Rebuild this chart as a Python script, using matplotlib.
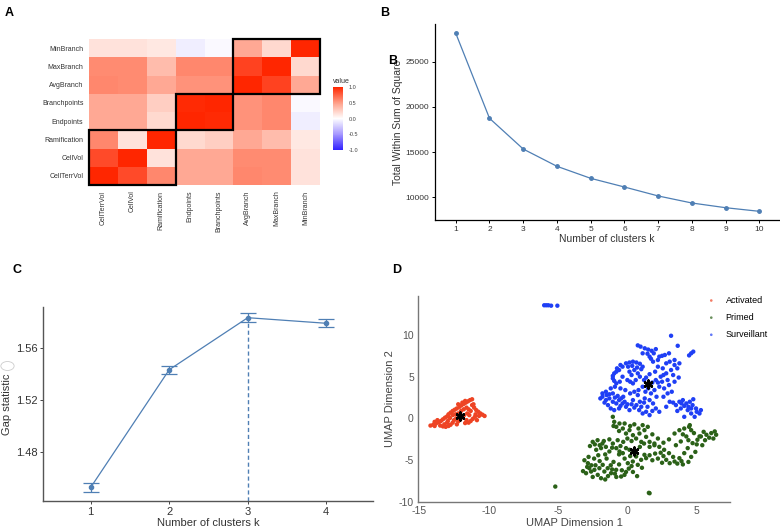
import matplotlib.pyplot as plt
import numpy as np
from matplotlib.colors import LinearSegmentedColormap
from matplotlib.patches import Rectangle, Circle

plt.rcParams["font.family"] = ["Liberation Sans", "DejaVu Sans"]
plt.rcParams["axes.unicode_minus"] = False

# ---- panel A: correlation heatmap ----
VARS = ["CellTerrVol", "CellVol", "Ramification", "Endpoints",
        "Branchpoints", "AvgBranch", "MaxBranch", "MinBranch"]
CORR = [
    [1.00, 0.85, 0.60, 0.45, 0.45, 0.60, 0.58, 0.15],
    [0.85, 1.00, 0.15, 0.45, 0.45, 0.58, 0.58, 0.15],
    [0.60, 0.15, 1.00, 0.20, 0.25, 0.45, 0.35, 0.12],
    [0.45, 0.45, 0.20, 1.00, 0.98, 0.55, 0.60, -0.08],
    [0.45, 0.45, 0.25, 0.98, 1.00, 0.55, 0.60, -0.03],
    [0.60, 0.58, 0.45, 0.55, 0.55, 1.00, 0.88, 0.45],
    [0.58, 0.58, 0.35, 0.60, 0.60, 0.88, 1.00, 0.20],
    [0.15, 0.15, 0.12, -0.08, -0.03, 0.45, 0.20, 1.00],
]
BLOCKS = [(0, 3), (3, 2), (5, 3)]  # (start, size) of boxed clusters

# ---- panel B: elbow ----
K_ELBOW = [1, 2, 3, 4, 5, 6, 7, 8, 9, 10]
WSS = [28150, 18740, 15340, 13430, 12100, 11140, 10150, 9370, 8850, 8450]

# ---- panel C: gap statistic ----
K_GAP = [1, 2, 3, 4]
GAP = [1.4528, 1.5433, 1.5833, 1.5790]
GAP_SE = [0.0035, 0.0030, 0.0035, 0.0032]
K_BEST = 3

# ---- panel D: UMAP ----
ACTIVATED = [
    (-14.2, -0.85), (-14.0, -0.75), (-13.8, -0.6), (-13.6, -0.45), (-13.45, -0.3),
    (-13.3, -0.1), (-13.15, 0.1), (-13.0, 0.25), (-13.5, -0.85), (-13.3, -0.95),
    (-13.1, -1.0), (-12.9, -0.9), (-12.75, -0.75), (-12.9, 0.5), (-12.75, 0.7),
    (-12.6, 0.9), (-12.45, 1.05), (-12.3, 1.2), (-12.6, 0.4), (-12.1, 1.4),
    (-11.95, 1.6), (-11.8, 1.75), (-11.65, 1.9), (-11.5, 2.05), (-11.35, 2.2),
    (-11.2, 2.3), (-12.5, -0.2), (-12.35, 0.0), (-12.2, -0.35), (-12.05, -0.1),
    (-11.9, 0.2), (-11.6, 1.3), (-11.45, 1.1), (-11.3, 0.9), (-11.55, 0.6),
    (-11.4, 0.4), (-11.2, 1.6), (-11.05, 1.3), (-10.9, 1.0), (-10.75, 0.8),
    (-10.6, 0.6), (-10.45, 0.45), (-10.3, 0.3), (-11.0, 0.2), (-11.15, -0.05),
    (-11.3, -0.3), (-11.45, -0.5), (-11.7, -0.55), (-10.85, -0.2), (-13.7, -0.2),
    (-13.9, -0.4), (-12.0, 0.9), (-12.2, 0.6), (-11.8, 1.1), (-12.8, 0.05),
    (-12.95, -0.3), (-13.9, -0.9), (-13.2, -0.7), (-12.6, -0.5), (-12.4, 0.5),
    (-11.7, 2.1), (-11.9, 1.9), (-12.2, 1.7), (-11.1, 1.7), (-10.95, 0.5),
    (-10.7, 0.3), (-11.6, -0.2), (-11.8, 0.35), (-12.3, -0.7), (-13.0, -0.5),
]
PRIMED = [
    (-5.2, -8.15), (1.55, -8.9), (1.6, -8.95),
    (-1.05, 0.2), (-0.95, -0.4), (-0.8, -1.0), (-0.57, -0.6), (-0.33, -1.2),
    (-0.1, -1.8), (0.15, -1.4), (0.4, -2.0), (0.63, -2.4), (0.87, -1.8),
    (1.0, -2.8), (1.23, -1.4), (1.47, -1.0), (1.35, -2.2), (1.6, -2.8),
    (1.95, -3.0), (0.5, -0.7), (0.8, -1.2), (-0.6, -1.5), (-1.0, -0.9),
    (-2.5, -2.8), (-2.15, -2.6), (-1.8, -3.0), (-1.55, -3.4), (-1.9, -3.55),
    (-2.25, -3.75), (-1.3, -3.95), (-1.05, -3.0), (-0.8, -3.55), (-0.57, -3.95),
    (-0.33, -4.15), (-0.1, -3.55), (0.15, -3.75), (-1.3, -2.5), (-0.7, -2.6),
    (-2.7, -3.3),
    (-3.1, -5.0), (-2.85, -5.35), (-2.75, -5.95), (-2.98, -6.55), (-2.62, -6.35),
    (-2.38, -6.15), (-2.14, -6.75), (-1.9, -7.15), (-2.02, -5.95), (-1.66, -6.35),
    (-1.42, -5.95), (-1.18, -6.55), (-0.81, -6.15), (-0.45, -6.95), (-0.21, -6.75),
    (-1.78, -5.55), (-2.4, -4.8), (-2.1, -4.4), (-1.5, -4.8), (-1.0, -5.2),
    (-0.6, -5.5), (-3.2, -6.3), (-1.6, -7.3), (-0.8, -7.0),
    (0.63, -4.55), (0.99, -4.95), (1.23, -4.35), (0.39, -5.15), (0.03, -5.35),
    (0.75, -5.55), (1.35, -4.75), (0.2, -4.5), (-0.2, -4.8), (0.1, -6.0),
    (0.4, -6.4), (0.7, -6.9), (1.05, -5.9),
    (1.6, -3.4), (1.95, -3.2), (2.3, -3.4), (2.65, -3.75), (3.0, -4.15),
    (2.8, -4.95), (3.05, -5.35), (3.4, -5.15), (3.75, -4.75), (4.1, -4.15),
    (4.35, -3.55), (4.7, -2.95), (5.05, -2.55), (5.3, -2.15), (5.7, -1.95),
    (6.05, -1.75), (6.3, -1.55), (6.4, -1.95), (2.5, -5.3), (2.2, -4.8),
    (3.6, -5.4), (4.0, -5.5), (4.4, -5.2), (5.6, -2.6), (5.0, -3.1),
    (2.0, -4.2), (1.8, -5.0),
    (3.75, -1.4), (4.1, -1.2), (4.45, -1.0), (4.8, -1.75), (5.2, -2.15),
    (4.25, -2.15), (3.85, -2.75), (3.5, -3.2), (4.5, -0.8), (3.4, -1.8),
    (3.0, -2.5),
    (-2.0, -3.2), (-1.7, -2.7), (-2.35, -3.1), (-1.1, -3.5), (-0.5, -3.3),
    (-0.3, -2.8), (0.0, -2.4), (0.3, -2.7), (-0.2, -0.6), (0.2, -0.9),
    (1.1, -0.8), (1.8, -1.9), (-2.8, -4.6), (-2.6, -5.6), (-2.3, -5.6),
    (-2.0, -5.1), (-1.2, -5.6), (-1.1, -6.1), (-0.4, -6.2), (-0.1, -6.4),
    (0.3, -5.7), (1.6, -4.4), (2.4, -4.1), (2.6, -4.5), (3.3, -4.6),
    (3.9, -5.1), (4.6, -4.6), (4.9, -4.0), (5.4, -3.2), (5.9, -2.3),
    (6.2, -2.4), (5.5, -1.6), (4.0, -1.9), (4.6, -1.4), (4.4, -2.6),
    (2.2, -2.4), (2.6, -2.9), (-2.9, -5.8), (-1.4, -6.9), (-0.9, -6.6),
    (-2.5, -7.0), (-0.6, -4.3), (-1.6, -4.3), (0.9, -3.4), (1.2, -3.0),
]
SURVEILLANT = [
    (-6.0, 13.55), (-5.85, 13.55), (-5.7, 13.55), (-5.5, 13.5), (-5.05, 13.5),
    (3.15, 9.9), (3.63, 8.7), (4.45, 7.55), (4.6, 7.8), (4.75, 8.0),
    (0.75, 8.75), (0.95, 8.6), (1.25, 8.4), (1.5, 8.25), (1.75, 8.1),
    (2.05, 8.3), (1.1, 7.8), (1.45, 7.75), (1.6, 7.4), (1.7, 7.15),
    (1.85, 6.8), (2.3, 7.4), (2.5, 7.5), (2.7, 7.6), (3.0, 7.8),
    (-0.1, 6.6), (0.15, 6.7), (0.4, 6.8), (0.65, 6.7), (0.9, 6.55),
    (1.1, 6.2), (-0.35, 6.2), (-0.6, 5.8), (-0.8, 5.6), (-0.95, 5.4),
    (-1.05, 5.1), (-1.05, 4.8), (-0.95, 4.5), (-0.8, 4.2), (-0.55, 4.4),
    (-0.35, 5.0), (0.0, 4.6), (0.2, 4.4), (0.4, 4.2), (0.6, 4.6),
    (0.15, 5.6), (0.5, 5.8), (0.75, 5.4), (0.3, 5.2),
    (1.2, 4.6), (1.35, 4.9), (1.8, 4.3), (1.1, 3.8),
    (2.05, 4.6), (2.4, 5.0), (2.8, 5.4), (3.15, 5.8), (3.4, 6.4),
    (3.05, 6.8), (2.55, 6.0), (2.8, 6.6), (3.4, 7.0), (3.75, 6.6),
    (3.6, 6.0), (2.3, 3.8), (2.65, 3.6), (3.0, 4.0), (3.4, 4.4),
    (3.7, 4.9), (1.95, 3.4), (1.7, 3.0), (2.2, 4.3),
    (-1.8, 3.0), (-1.55, 3.2), (-1.05, 3.0), (-1.8, 2.6), (-1.55, 2.2),
    (-1.3, 2.4), (-1.05, 2.0), (-0.8, 1.8), (-0.6, 2.2), (-0.35, 1.8),
    (-0.1, 1.4), (0.15, 1.0), (-1.4, 1.6), (-1.2, 1.2), (-0.95, 1.0),
    (-0.6, 1.2), (-1.95, 2.4), (-0.3, 2.6), (-0.7, 2.7),
    (0.4, 2.2), (0.65, 1.6), (0.85, 1.0), (1.1, 0.6), (1.35, 0.8),
    (1.6, 0.4), (1.45, 1.4), (1.85, 1.8), (2.05, 1.2), (2.3, 0.8),
    (0.9, 2.0), (1.25, 2.4), (0.75, 2.8), (1.0, 1.4), (1.6, 2.2),
    (3.75, 2.0), (4.0, 2.2), (4.25, 1.8), (4.5, 2.0), (4.7, 1.6),
    (4.95, 1.2), (5.2, 0.6), (4.35, 1.0), (4.6, 0.6), (4.1, 0.2),
    (3.85, 1.2), (3.5, 1.6), (3.05, 2.0), (2.8, 1.4), (4.85, 0.2),
    (5.3, 1.0), (4.1, 1.5), (4.75, 2.3), (3.3, 1.9),
    (-1.5, 2.8), (-1.3, 2.9), (-0.9, 2.5), (-0.45, 2.4), (-0.2, 2.0),
    (0.0, 1.7), (-0.5, 1.5), (-1.65, 1.9), (0.5, 3.2), (0.2, 3.0),
    (-0.15, 3.4), (-0.5, 3.6), (0.8, 3.4), (1.3, 3.2), (1.5, 3.6),
    (2.6, 2.6), (2.9, 3.0), (3.2, 3.2), (2.5, 4.4), (2.9, 4.6),
    (3.3, 5.2), (-0.75, 6.0), (-0.5, 6.4), (0.05, 6.2), (0.35, 6.3),
    (1.0, 5.9), (0.9, 5.0), (1.6, 5.3), (2.0, 5.6), (2.2, 6.2),
    (1.9, 7.8), (2.2, 7.0), (3.9, 1.8), (4.4, 1.4), (5.0, 0.8),
    (4.6, 1.2), (3.6, 0.9), (1.2, 1.9), (1.8, 0.9), (2.1, 2.6),
    (0.5, 1.3), (0.3, 1.7), (-1.2, 3.6), (-0.9, 3.8), (0.7, 6.1),
    (2.6, 5.2),
]
CENTROIDS = [(-12.1, 0.25), (1.5, 4.1), (0.45, -3.95)]

STEEL = "#4f7fb4"
RED, GREEN, BLUE = "#ee4424", "#2b6118", "#1f3ff5"

fig = plt.figure(figsize=(7.8, 5.28), dpi=100)

# ---------------- A ----------------
cmap = LinearSegmentedColormap.from_list(
    "rwb", [(0, "#3020ff"), (0.25, "#a597ff"), (0.5, "#ffffff"),
            (0.75, "#ff9f88"), (1, "#ff2600")])
axA = fig.add_axes([0.1141, 0.6496, 0.2962, 0.2765])
mesh = axA.pcolormesh(np.array(CORR), cmap=cmap, vmin=-1, vmax=1)
for start, size in BLOCKS:
    axA.add_patch(Rectangle((start, start), size, size, fill=False,
                            edgecolor="black", linewidth=1.6, clip_on=False))
axA.set_xlim(0, 8)
axA.set_ylim(0, 8)
axA.set_xticks(np.arange(8) + 0.5)
axA.set_yticks(np.arange(8) + 0.5)
axA.set_xticklabels(VARS, rotation=90, fontsize=5, color="#333333")
axA.set_yticklabels(VARS, fontsize=5, color="#333333")
axA.tick_params(length=0, pad=4)
for s in axA.spines.values():
    s.set_visible(False)

cax = fig.add_axes([0.4269, 0.7159, 0.0128, 0.1193])
cb = fig.colorbar(mesh, cax=cax, ticks=[-1, -0.5, 0, 0.5, 1])
cb.outline.set_visible(False)
cb.ax.set_yticklabels(["-1.0", "-0.5", "0.0", "0.5", "1.0"])
cb.ax.tick_params(labelsize=4, length=2, color="white", labelcolor="#444444", pad=2)
fig.text(0.4269, 0.8430, "value", fontsize=5, color="#333333")

# ---------------- B ----------------
axB = fig.add_axes([0.5577, 0.5833, 0.441, 0.3712])
axB.plot(K_ELBOW, WSS, color=STEEL, lw=0.9, marker="o", ms=2.5)
axB.set_xlim(0.385, 10.58)
axB.set_ylim(7489, 29170)
axB.set_xticks(K_ELBOW)
axB.set_yticks([10000, 15000, 20000, 25000])
axB.set_xlabel("Number of clusters k", fontsize=7.5, color="#333333", labelpad=1)
axB.set_ylabel("Total Within Sum of Square", fontsize=7.5, color="#333333", labelpad=2)
axB.tick_params(labelsize=6, length=2.5, width=0.7, pad=1.5, labelcolor="#333333")
for s in ["top", "right"]:
    axB.spines[s].set_visible(False)
for s in ["left", "bottom"]:
    axB.spines[s].set_linewidth(0.9)

# ---------------- C ----------------
axC = fig.add_axes([0.0551, 0.0511, 0.4231, 0.3674])
axC.errorbar(K_GAP, GAP, yerr=GAP_SE, color=STEEL, lw=0.9, marker="o", ms=3,
             capsize=6, elinewidth=0.9, capthick=0.9)
axC.set_xlim(0.392, 4.595)
axC.set_ylim(1.4423, 1.5915)
axC.vlines(K_BEST, 1.4423, GAP[K_GAP.index(K_BEST)], colors=STEEL,
           linestyles=(0, (3, 2)), lw=1)
axC.set_xticks(K_GAP)
axC.set_yticks([1.48, 1.52, 1.56])
axC.set_xlabel("Number of clusters k", fontsize=8, color="#333333", labelpad=1)
axC.set_ylabel("Gap statistic", fontsize=8, color="#333333", labelpad=3)
axC.tick_params(labelsize=8, length=2.5, width=0.7, pad=1.5, labelcolor="#333333",
                color="#444444")
for s in ["top", "right"]:
    axC.spines[s].set_visible(False)
for s in ["left", "bottom"]:
    axC.spines[s].set_linewidth(1.0)
    axC.spines[s].set_color("#555555")
fig.add_artist(Circle((0.0096, 1 - 366 / 528), 0.0085, transform=fig.transFigure,
                      fill=False, edgecolor="#cccccc", lw=0.6))

# ---------------- D ----------------
axD = fig.add_axes([0.5359, 0.0492, 0.4, 0.3902])
for pts, col, lab in [(ACTIVATED, RED, "Activated"), (PRIMED, GREEN, "Primed"),
                      (SURVEILLANT, BLUE, "Surveillant")]:
    arr = np.array(pts)
    axD.scatter(arr[:, 0], arr[:, 1], s=10, color=col, edgecolors="none", label=lab)
cen = np.array(CENTROIDS)
axD.scatter(cen[:, 0], cen[:, 1], marker=(6, 2, 0), s=32, color="black", lw=1.8)
axD.set_xlim(-15.1, 7.4)
axD.set_ylim(-10, 14.66)
axD.set_xticks([-15, -10, -5, 0, 5])
axD.set_yticks([-10, -5, 0, 5, 10])
axD.set_xlabel("UMAP Dimension 1", fontsize=8, color="#444444", labelpad=1)
axD.set_ylabel("UMAP Dimension 2", fontsize=8, color="#444444", labelpad=3)
axD.tick_params(labelsize=7.5, length=0, pad=3, labelcolor="#555555")
for s in ["top", "right"]:
    axD.spines[s].set_visible(False)
for s in ["left", "bottom"]:
    axD.spines[s].set_color("#777777")
    axD.spines[s].set_linewidth(1.0)
leg = axD.legend(loc="upper left", bbox_to_anchor=(0.885, 1.04), frameon=False,
                 fontsize=6.5, markerscale=0.6, handletextpad=0.6, labelspacing=0.9)
for h in leg.legend_handles:
    h.set_alpha(0.7)

# panel letters
for x, y, t in [(0.006, 0.975, "A"), (0.487, 0.975, "B"), (0.497, 0.885, "B"),
                (0.016, 0.488, "C"), (0.503, 0.488, "D")]:
    fig.text(x, y, t, fontsize=9, fontweight="bold", va="center")

fig.savefig("out.png", dpi=100)
